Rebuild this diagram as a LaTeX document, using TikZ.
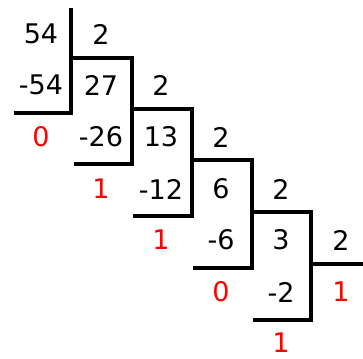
\documentclass[tikz,border=0pt]{standalone}
\usepackage{fontspec}
\setmainfont{DejaVu Sans}
\usepackage{xcolor}
\usetikzlibrary{positioning}

\definecolor{remred}{RGB}{255,0,0}

\begin{document}
\begin{tikzpicture}[
  x=1pt, y=-1pt,
  num/.style={font=\fontsize{27}{27}\selectfont, inner sep=0pt},
  rest/.style={num, text=remred},
  bar/.style={line width=3.4pt, line join=miter}
]
\useasboundingbox (0,0) rectangle (363,358);

% Step 1: 54 / 2
\node[num]  (d54)  at (41,34)  {54};
\node[num]  (v1)   at (101,34) {2};
\node[num]  (s54)  at (41,85)  {-54};
\node[rest] (r1)   at (41,137) {0};

% Step 2: 27 / 2
\node[num]  (d27)  at (101,85)  {27};
\node[num]  (v2)   at (161,85)  {2};
\node[num]  (s26)  at (101,137) {-26};
\node[rest] (r2)   at (101,189) {1};

% Step 3: 13 / 2
\node[num]  (d13)  at (161,137) {13};
\node[num]  (v3)   at (221,137) {2};
\node[num]  (s12)  at (161,189) {-12};
\node[rest] (r3)   at (161,240) {1};

% Step 4: 6 / 2
\node[num]  (d6)   at (221,189) {6};
\node[num]  (v4)   at (281,189) {2};
\node[num]  (s6)   at (221,240) {-6};
\node[rest] (r4)   at (221,292) {0};

% Step 5: 3 / 2
\node[num]  (d3)   at (281,240) {3};
\node[num]  (v5)   at (341,240) {2};
\node[num]  (s2)   at (281,292) {-2};
\node[rest] (r5)   at (281,343) {1};

% Last quotient
\node[rest] (q)    at (341,292) {1};

% Division bars
\draw[bar] (14,113) -- (71,113) -- (71,8);
\draw[bar] (74,164) -- (132,164) -- (132,58) -- (71,58);
\draw[bar] (133,216) -- (192,216) -- (192,109) -- (132,109);
\draw[bar] (193,268) -- (252,268) -- (252,160) -- (192,160);
\draw[bar] (253,320) -- (311,320) -- (311,212) -- (252,212);
\draw[bar] (311,264) -- (363,264);

\end{tikzpicture}
\end{document}
